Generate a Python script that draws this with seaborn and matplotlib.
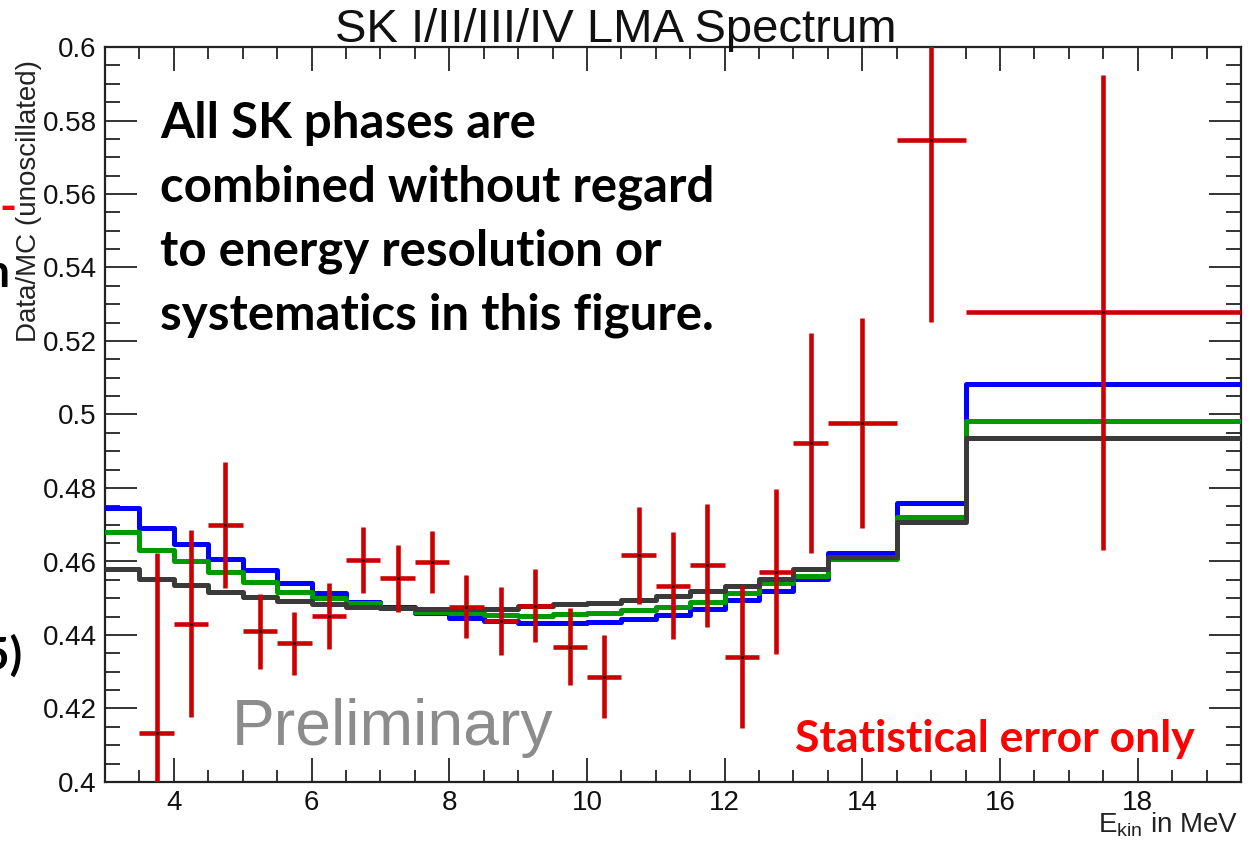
import numpy as np
import pandas as pd
import matplotlib
matplotlib.use("Agg")
import matplotlib.pyplot as plt
import seaborn as sns
from matplotlib.ticker import MultipleLocator, FuncFormatter

# ---------------- data ----------------
mc_edges = [3.0, 3.5, 4.0, 4.5, 5.0, 5.5, 6.0, 6.5, 7.0, 7.5, 8.0, 8.5, 9.0,
            9.5, 10.0, 10.5, 11.0, 11.5, 12.0, 12.5, 13.0, 13.5, 14.5, 15.5, 19.5]
mc_blue = [0.4746, 0.4690, 0.4648, 0.4607, 0.4577, 0.4541, 0.4513, 0.4491,
           0.4476, 0.4459, 0.4445, 0.4438, 0.4432, 0.4432, 0.4436, 0.4443,
           0.4454, 0.4472, 0.4495, 0.4520, 0.4552, 0.4622, 0.4758, 0.5084]
mc_green = [0.4681, 0.4631, 0.4600, 0.4571, 0.4543, 0.4516, 0.4500, 0.4486,
            0.4474, 0.4463, 0.4459, 0.4454, 0.4452, 0.4456, 0.4461, 0.4468,
            0.4477, 0.4490, 0.4513, 0.4541, 0.4561, 0.4606, 0.4722, 0.4981]
mc_black = [0.4579, 0.4552, 0.4536, 0.4518, 0.4504, 0.4493, 0.4483, 0.4477,
            0.4473, 0.4472, 0.4472, 0.4472, 0.4479, 0.4484, 0.4488, 0.4495,
            0.4506, 0.4519, 0.4533, 0.4552, 0.4579, 0.4611, 0.4708, 0.4936]

data_x = [3.75, 4.25, 4.75, 5.25, 5.75, 6.25, 6.75, 7.25, 7.75, 8.25, 8.75,
          9.25, 9.75, 10.25, 10.75, 11.25, 11.75, 12.25, 12.75, 13.25,
          14.0, 15.0, 17.5]
data_halfwidth = [0.25] * 20 + [0.5, 0.5, 2.0]
data_y = [0.4132, 0.4430, 0.4699, 0.4411, 0.4379, 0.4453, 0.4604, 0.4554,
          0.4599, 0.4475, 0.4439, 0.4479, 0.4368, 0.4287, 0.4618, 0.4533,
          0.4590, 0.4341, 0.4572, 0.4922, 0.4976, 0.5747, 0.5278]
data_upper = [0.4622, 0.4686, 0.4872, 0.4511, 0.4463, 0.4541, 0.4695, 0.4645,
              0.4684, 0.4563, 0.4531, 0.4579, 0.4473, 0.4400, 0.4749, 0.4679,
              0.4756, 0.4536, 0.4797, 0.5223, 0.5262, 0.6250, 0.5924]
data_lower = [0.3640, 0.4176, 0.4527, 0.4307, 0.4291, 0.4361, 0.4513, 0.4463,
              0.4513, 0.4391, 0.4346, 0.4382, 0.4264, 0.4173, 0.4484, 0.4388,
              0.4423, 0.4146, 0.4347, 0.4624, 0.4690, 0.5253, 0.4631]

x_ticks = [4, 6, 8, 10, 12, 14, 16, 18]
y_ticks = [0.4, 0.42, 0.44, 0.46, 0.48, 0.5, 0.52, 0.54, 0.56, 0.58, 0.6]

# ---------------- style ----------------
sns.set_theme(style="ticks")
plt.rcParams['font.family'] = ['Liberation Sans', 'DejaVu Sans']
plt.rcParams['mathtext.fontset'] = 'custom'
plt.rcParams['mathtext.rm'] = 'Liberation Sans'

fig = plt.figure(figsize=(12.5, 8.44), dpi=100)
ax = fig.add_axes([105/1250, 1-782/844, (1241-105)/1250, (782-47)/844])

rows = []
for name, vals in [("blue", mc_blue), ("green", mc_green), ("black", mc_black)]:
    yy = list(vals) + [vals[-1]]
    for xe, ye in zip(mc_edges, yy):
        rows.append({"E": xe, "ratio": ye, "model": name})
df = pd.DataFrame(rows)
palette = {"blue": "#0000ff", "green": "#009900", "black": "#3a3a3a"}
sns.lineplot(data=df, x="E", y="ratio", hue="model",
             hue_order=["blue", "green", "black"], palette=palette,
             drawstyle="steps-post", linewidth=3.6, errorbar=None,
             legend=False, ax=ax, zorder=3)

dy = np.array(data_y)
yerr = [dy - np.array(data_lower), np.array(data_upper) - dy]
ax.errorbar(data_x, data_y, xerr=data_halfwidth, yerr=yerr, fmt='none',
            ecolor='#cc0000', elinewidth=3.3, capsize=0, zorder=5)
sns.scatterplot(x=data_x, y=data_y, color='#200000', s=5, linewidth=0,
                ax=ax, zorder=6)

ax.set_xlim(3.0, 19.5)
ax.set_ylim(0.4, 0.6)
ax.set_xticks(x_ticks)
ax.set_yticks(y_ticks)
ax.xaxis.set_minor_locator(MultipleLocator(0.5))
ax.yaxis.set_minor_locator(MultipleLocator(0.005))
ax.yaxis.set_major_formatter(FuncFormatter(lambda v, p: "%g" % round(v, 3)))
ax.xaxis.set_major_formatter(FuncFormatter(lambda v, p: "%g" % v))
ax.set_xlabel("")
ax.set_ylabel("")

ax.tick_params(which='both', direction='in', top=True, right=True,
               colors='#333333', labelcolor='#111111', width=1.4,
               labelsize=20)
ax.tick_params(axis='y', which='major', length=23, pad=6)
ax.tick_params(axis='y', which='minor', length=11)
ax.tick_params(axis='x', which='major', length=17, pad=6)
ax.tick_params(axis='x', which='minor', length=8.5)
for s in ax.spines.values():
    s.set_linewidth(1.6)
    s.set_color('#222222')
    s.set_visible(True)

# ---------------- texts ----------------
fig.text(616/1250, 1-42/844, "SK I/II/III/IV LMA Spectrum", ha='center',
         va='baseline', fontsize=34, color='#111111')
fig.text(29/1250, 1-60/844, "Data/MC (unoscillated)", rotation=90,
         ha='center', va='top', fontsize=20, color='#222222')
fig.text(1238/1250, 1-832/844, r"E$_{\mathregular{kin}}$ in MeV",
         ha='right', va='baseline', fontsize=20, color='#222222')

note_lines = ["All SK phases are", "combined without regard",
              "to energy resolution or", "systematics in this figure."]
for i, line in enumerate(note_lines):
    fig.text(160/1250, 1-(138 + 64*i)/844, line, ha='left', va='baseline',
             fontsize=35.5, fontweight='bold', family=['Lato', 'DejaVu Sans'],
             color='black')

fig.text(232/1250, 1-745/844, "Preliminary", ha='left', va='baseline',
         fontsize=46.3, color='#8c8c8c')
fig.text(795/1250, 1-752/844, "Statistical error only", ha='left',
         va='baseline', fontsize=32, fontweight='bold',
         family=['Lato', 'DejaVu Sans'], color='#ff0000')

# fragments of slide text cut at the left edge
fig.text(11/1250, 1-287/844, "on", ha='right', va='baseline', fontsize=33,
         fontweight='bold', family=['Lato', 'DejaVu Sans'], color='black')
fig.text(22/1250, 1-670/844, "5)", ha='right', va='baseline', fontsize=33,
         fontweight='bold', family=['Lato', 'DejaVu Sans'], color='black')
fig.text(16/1250, 1-222/844, "-", ha='right', va='baseline', fontsize=33,
         fontweight='bold', family=['Lato', 'DejaVu Sans'], color='#ff0000')

fig.savefig("out.png", dpi=100)
